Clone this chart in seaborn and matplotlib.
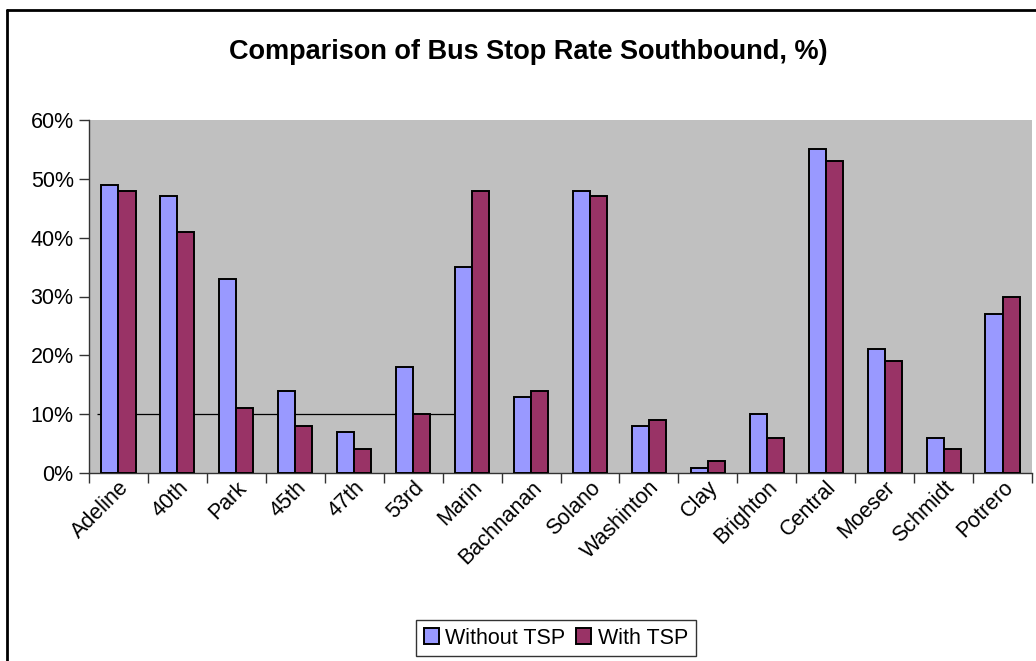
import matplotlib
matplotlib.use("Agg")
import matplotlib.pyplot as plt
from matplotlib.lines import Line2D
from matplotlib.ticker import PercentFormatter, FixedLocator, NullFormatter
import pandas as pd
import seaborn as sns

# Bus stops along the southbound route
stops = ["Adeline", "40th", "Park", "45th", "47th", "53rd", "Marin", "Bachnanan",
         "Solano", "Washinton", "Clay", "Brighton", "Central", "Moeser", "Schmidt", "Potrero"]

# Share of trips that stopped at each stop (%)
without_tsp = [49, 47, 33, 14, 7, 18, 35, 13, 48, 8, 0.8, 10, 55, 21, 6, 27]
with_tsp = [48, 41, 11, 8, 4, 10, 48, 14, 47, 9, 2, 6, 53, 19, 4, 30]

series_names = ["Without TSP", "With TSP"]
series_colors = ["#9999FF", "#993366"]

df = pd.DataFrame({
    "stop": stops * 2,
    "rate": without_tsp + with_tsp,
    "scenario": [series_names[0]] * len(stops) + [series_names[1]] * len(stops),
})

sns.set_style("white")
plt.rcParams["font.family"] = ["Liberation Sans", "DejaVu Sans"]
plt.rcParams["text.color"] = "black"
plt.rcParams["xtick.color"] = "black"
plt.rcParams["ytick.color"] = "black"
plt.rcParams["axes.labelcolor"] = "black"

W, H = 1036, 661
fig = plt.figure(figsize=(W / 100, H / 100), dpi=100)
fig.patch.set_facecolor("white")

left, right, top, bottom = 89, 1032, 120, 473
ax = fig.add_axes([left / W, 1 - bottom / H, (right - left) / W, (bottom - top) / H])
ax.set_facecolor("#C0C0C0")

sns.barplot(data=df, x="stop", y="rate", hue="scenario", order=stops,
            hue_order=series_names, palette=dict(zip(series_names, series_colors)),
            width=0.58, gap=0, edgecolor="black", linewidth=1.4,
            saturation=1, ax=ax, zorder=3, legend=True)

# short reference line at 10%
ax.hlines(10, -0.364, 5.693, colors="black", linewidth=0.9, zorder=2)

ax.set_xlim(-0.5, len(stops) - 0.5)
ax.set_ylim(0, 60)
ax.set_yticks(range(0, 61, 10))
ax.yaxis.set_major_formatter(PercentFormatter(decimals=0))
ax.set_xlabel("")
ax.set_ylabel("")

# category tick marks sit between groups; labels sit under the groups
ax.xaxis.set_minor_locator(FixedLocator([i - 0.5 for i in range(len(stops) + 1)]))
ax.xaxis.set_minor_formatter(NullFormatter())
ax.tick_params(axis="x", which="major", length=0, pad=3, labelsize=15.5, labelcolor="black")
ax.tick_params(axis="x", which="minor", length=7, width=1, color="#333333", direction="out", bottom=True)
ax.tick_params(axis="y", which="major", length=7, width=1, color="#333333", direction="out",
               left=True, labelsize=15.5, pad=4, labelcolor="black")
for lbl in ax.get_xticklabels():
    lbl.set_rotation(45)
    lbl.set_ha("right")
    lbl.set_rotation_mode("anchor")

for side in ["top", "right"]:
    ax.spines[side].set_visible(False)
for side in ["left", "bottom"]:
    ax.spines[side].set_visible(True)
    ax.spines[side].set_color("#333333")
    ax.spines[side].set_linewidth(1)

handles, labels = ax.get_legend_handles_labels()
ax.get_legend().remove()
leg = ax.legend(handles, labels, loc="center", bbox_to_anchor=(556 / W, 1 - 638 / H),
                bbox_transform=fig.transFigure, ncol=2, frameon=True, fancybox=False,
                edgecolor="black", handlelength=0.7, handleheight=0.7, handletextpad=0.3,
                columnspacing=0.5, borderpad=0.35, fontsize=15.5, labelcolor="black")
leg.get_frame().set_linewidth(1)
leg.get_frame().set_facecolor("white")

fig.text(528 / W, 1 - 52 / H, "Comparison of Bus Stop Rate Southbound, %)",
         ha="center", va="center", fontsize=19.5, fontweight="bold", color="black")

# chart border along the left and top edges
fig.add_artist(Line2D([7 / W, 7 / W], [1 - 10 / H, -0.05], color="black", linewidth=2,
                      transform=fig.transFigure))
fig.add_artist(Line2D([7 / W, 1.05], [1 - 10 / H, 1 - 10 / H], color="black", linewidth=2,
                      transform=fig.transFigure))

fig.savefig("out.png", dpi=100)
